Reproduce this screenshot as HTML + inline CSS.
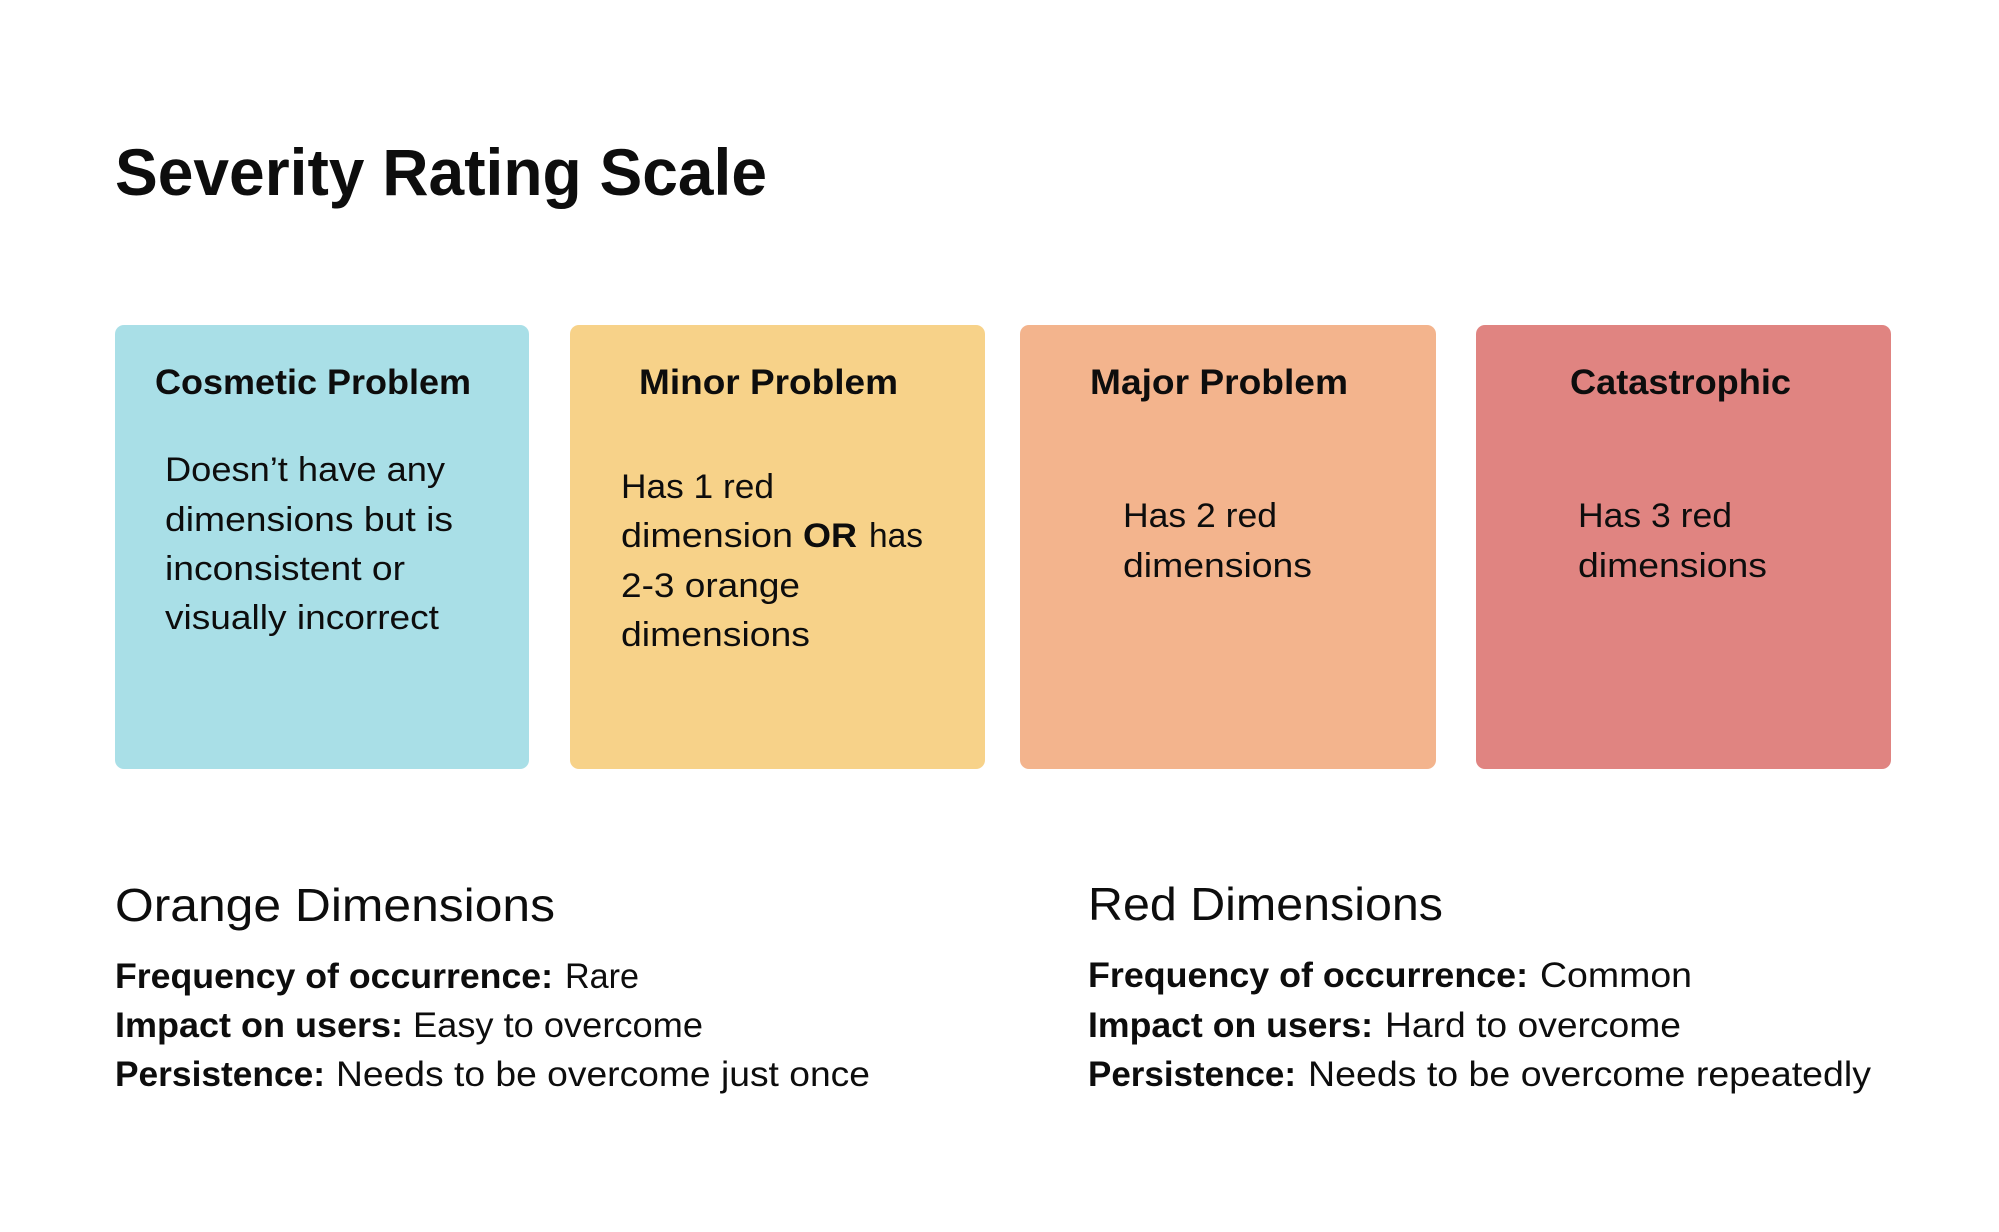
<!DOCTYPE html>
<html>
<head>
<meta charset="utf-8">
<style>
  html,body{margin:0;padding:0;background:#fff;}
  svg{display:block;}
  text{font-family:"Liberation Sans",sans-serif;fill:#0d0d0d;}
  .b{font-weight:bold;}
</style>
</head>
<body>
<svg width="1999" height="1232" viewBox="0 0 1999 1232">
  <rect x="0" y="0" width="1999" height="1232" fill="#ffffff"/>
  <text class="b" x="115" y="195" font-size="66" textLength="652" lengthAdjust="spacingAndGlyphs">Severity Rating Scale</text>

  <g>
    <rect x="115" y="325" width="414" height="444" rx="9" fill="#A9DFE7"/>
    <text class="b" x="155" y="394" font-size="35" textLength="316" lengthAdjust="spacingAndGlyphs">Cosmetic Problem</text>
    <text x="165" y="481" font-size="34" textLength="280" lengthAdjust="spacingAndGlyphs">Doesn’t have any</text>
    <text x="165" y="531" font-size="34" textLength="288" lengthAdjust="spacingAndGlyphs">dimensions but is</text>
    <text x="165" y="580" font-size="34" textLength="240" lengthAdjust="spacingAndGlyphs">inconsistent or</text>
    <text x="165" y="629" font-size="34" textLength="274" lengthAdjust="spacingAndGlyphs">visually incorrect</text>
  </g>

  <g>
    <rect x="570" y="325" width="415" height="444" rx="9" fill="#F7D289"/>
    <text class="b" x="639" y="394" font-size="35" textLength="259" lengthAdjust="spacingAndGlyphs">Minor Problem</text>
    <text x="621" y="498" font-size="34" textLength="153" lengthAdjust="spacingAndGlyphs">Has 1 red</text>
    <text x="621" y="547" font-size="34" textLength="172" lengthAdjust="spacingAndGlyphs">dimension</text>
    <text class="b" x="803" y="547" font-size="34" textLength="54" lengthAdjust="spacingAndGlyphs">OR</text>
    <text x="869" y="547" font-size="34" textLength="54" lengthAdjust="spacingAndGlyphs">has</text>
    <text x="621" y="597" font-size="34" textLength="179" lengthAdjust="spacingAndGlyphs">2-3 orange</text>
    <text x="621" y="646" font-size="34" textLength="189" lengthAdjust="spacingAndGlyphs">dimensions</text>
  </g>

  <g>
    <rect x="1020" y="325" width="416" height="444" rx="9" fill="#F3B48D"/>
    <text class="b" x="1090" y="394" font-size="35" textLength="258" lengthAdjust="spacingAndGlyphs">Major Problem</text>
    <text x="1123" y="527" font-size="34" textLength="154" lengthAdjust="spacingAndGlyphs">Has 2 red</text>
    <text x="1123" y="577" font-size="34" textLength="189" lengthAdjust="spacingAndGlyphs">dimensions</text>
  </g>

  <g>
    <rect x="1476" y="325" width="415" height="444" rx="9" fill="#E08481"/>
    <text class="b" x="1570" y="394" font-size="35" textLength="221" lengthAdjust="spacingAndGlyphs">Catastrophic</text>
    <text x="1578" y="527" font-size="34" textLength="154" lengthAdjust="spacingAndGlyphs">Has 3 red</text>
    <text x="1578" y="577" font-size="34" textLength="189" lengthAdjust="spacingAndGlyphs">dimensions</text>
  </g>

  <g>
    <text x="115" y="921" font-size="46" textLength="440" lengthAdjust="spacingAndGlyphs">Orange Dimensions</text>
    <text class="b" x="115" y="988" font-size="35" textLength="438" lengthAdjust="spacingAndGlyphs">Frequency of occurrence:</text>
    <text x="565" y="988" font-size="35" textLength="74" lengthAdjust="spacingAndGlyphs">Rare</text>
    <text class="b" x="115" y="1037" font-size="35" textLength="288" lengthAdjust="spacingAndGlyphs">Impact on users:</text>
    <text x="413" y="1037" font-size="35" textLength="290" lengthAdjust="spacingAndGlyphs">Easy to overcome</text>
    <text class="b" x="115" y="1086" font-size="35" textLength="210" lengthAdjust="spacingAndGlyphs">Persistence:</text>
    <text x="336" y="1086" font-size="35" textLength="534" lengthAdjust="spacingAndGlyphs">Needs to be overcome just once</text>
  </g>

  <g>
    <text x="1088" y="920" font-size="46" textLength="355" lengthAdjust="spacingAndGlyphs">Red Dimensions</text>
    <text class="b" x="1088" y="987" font-size="35" textLength="440" lengthAdjust="spacingAndGlyphs">Frequency of occurrence:</text>
    <text x="1540" y="987" font-size="35" textLength="152" lengthAdjust="spacingAndGlyphs">Common</text>
    <text class="b" x="1088" y="1037" font-size="35" textLength="285" lengthAdjust="spacingAndGlyphs">Impact on users:</text>
    <text x="1385" y="1037" font-size="35" textLength="296" lengthAdjust="spacingAndGlyphs">Hard to overcome</text>
    <text class="b" x="1088" y="1086" font-size="35" textLength="208" lengthAdjust="spacingAndGlyphs">Persistence:</text>
    <text x="1308" y="1086" font-size="35" textLength="563" lengthAdjust="spacingAndGlyphs">Needs to be overcome repeatedly</text>
  </g>
</svg>
</body>
</html>
